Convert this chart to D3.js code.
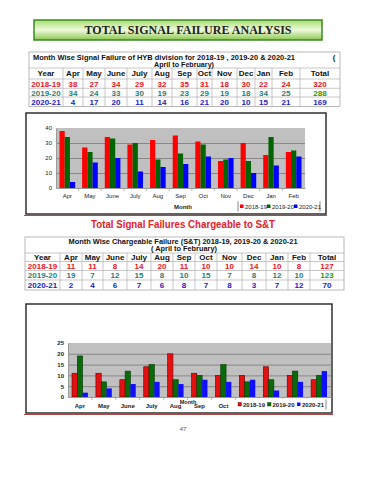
<!DOCTYPE html>
<html>
<head>
<meta charset="utf-8">
<script src="https://cdn.jsdelivr.net/npm/d3@7/dist/d3.min.js"></script>
<style>
  body { margin: 0; background: #fff; }
  svg { display: block; }
</style>
</head>
<body>
<div id="page"></div>
<script>
// data
var months = ["Apr", "May", "June", "July", "Aug", "Sep", "Oct", "Nov", "Dec", "Jan", "Feb"]
var years = ["2018-19", "2019-20", "2020-21"]

// total signal failures
var total1819 = [38, 27, 34, 29, 32, 35, 31, 18, 30, 22, 24]
var total1920 = [34, 24, 33, 30, 19, 23, 29, 19, 18, 34, 25]
var total2021 = [4, 17, 20, 11, 14, 16, 21, 20, 10, 15, 21]

// failures chargeable to S&T
var st1819 = [11, 11, 8, 14, 20, 11, 10, 10, 14, 10, 8]
var st1920 = [19, 7, 12, 15, 8, 10, 15, 7, 8, 12, 10]
var st2021 = [2, 4, 6, 7, 6, 8, 7, 8, 3, 7, 12]

var ticks1 = [0, 10, 20, 30, 40]
var ticks2 = [0, 5, 10, 15, 20, 25]

var W = 370, H = 480
var sans = "'Liberation Sans', Arial, sans-serif"
var rowColors = ["#e8141c", "#1f7f78", "#2222c8"]
var totalColors = ["#e8141c", "#15a015", "#2222c8"]

var svg = d3.select("#page")
  .append("svg")
  .attr("width", W)
  .attr("height", H)

// ---------- title box ----------
var defs = svg.append("defs")
var grad = defs.append("linearGradient")
  .attr("id", "titleGrad")
  .attr("x1", 0).attr("y1", 0).attr("x2", 0).attr("y2", 1)
grad.append("stop").attr("offset", "0%").attr("stop-color", "#a8dc70")
grad.append("stop").attr("offset", "50%").attr("stop-color", "#eefadc")
grad.append("stop").attr("offset", "100%").attr("stop-color", "#8cc850")

svg.append("rect")
  .attr("x", 34).attr("y", 20)
  .attr("width", 288).attr("height", 20)
  .style("fill", "url(#titleGrad)")
  .style("stroke", "#3a8a20")
  .style("stroke-width", 1.5)

svg.append("text")
  .attr("x", 188).attr("y", 34)
  .attr("text-anchor", "middle")
  .attr("textLength", 207)
  .attr("lengthAdjust", "spacingAndGlyphs")
  .style("font-family", "'Liberation Serif', 'Times New Roman', serif")
  .style("font-weight", "bold")
  .style("font-size", "11.5px")
  .style("fill", "#222")
  .text("TOTAL SIGNAL FAILURE ANALYSIS")

// ---------- tables ----------
function drawTable(cfg, rows) {
  var g = svg.append("g")
  var cols = cfg.cols
  var left = cols[0], right = cols[cols.length - 1]
  var rb = cfg.rowBounds

  // outer frame
  g.append("rect")
    .attr("x", left).attr("y", cfg.top)
    .attr("width", right - left).attr("height", rb[rb.length - 1] - cfg.top)
    .style("fill", "none")
    .style("stroke", "#a8a8a8")
    .style("stroke-width", 0.8)

  // horizontal lines
  g.selectAll("hline")
    .data(rb.slice(0, -1))
    .enter()
    .append("line")
    .attr("x1", left).attr("x2", right)
    .attr("y1", d => d).attr("y2", d => d)
    .style("stroke", "#b0b0b0")
    .style("stroke-width", 0.7)

  // vertical lines
  g.selectAll("vline")
    .data(cols.slice(1, -1))
    .enter()
    .append("line")
    .attr("x1", d => d).attr("x2", d => d)
    .attr("y1", rb[0]).attr("y2", rb[rb.length - 1])
    .style("stroke", "#b0b0b0")
    .style("stroke-width", 0.7)

  // header text
  cfg.header.forEach(function(h) {
    var t = g.append("text")
      .attr("x", h.x).attr("y", h.y)
      .attr("text-anchor", h.anchor || "middle")
      .style("font-family", sans)
      .style("font-weight", "bold")
      .style("font-size", "7.6px")
      .style("fill", "#111")
      .text(h.text)
    if (h.len) t.attr("textLength", h.len).attr("lengthAdjust", "spacingAndGlyphs")
  })

  // column title row
  var heads = ["Year"].concat(months).concat(["Total"])
  var fs = 8
  g.selectAll("colhead")
    .data(heads)
    .enter()
    .append("text")
    .attr("x", (d, i) => (cols[i] + cols[i + 1]) / 2)
    .attr("y", (rb[0] + rb[1]) / 2 + fs * 0.36)
    .attr("text-anchor", "middle")
    .style("font-family", sans)
    .style("font-weight", "bold")
    .style("font-size", fs + "px")
    .style("fill", "#111")
    .text(d => d)

  rows.forEach(function(vals, r) {
    var cells = [years[r]].concat(vals).concat([d3.sum(vals)])
    g.selectAll("cell" + r)
      .data(cells)
      .enter()
      .append("text")
      .attr("x", (d, i) => (cols[i] + cols[i + 1]) / 2)
      .attr("y", (rb[r + 1] + rb[r + 2]) / 2 + fs * 0.36)
      .attr("text-anchor", "middle")
      .style("font-family", sans)
      .style("font-weight", "bold")
      .style("font-size", fs + "px")
      .style("fill", (d, i) => i === cells.length - 1 ? totalColors[r] : rowColors[r])
      .text(d => d)
  })
}

drawTable({
  cols: [29, 63, 83, 105, 127, 152, 172, 197, 212, 237, 255, 272, 300, 340],
  top: 52,
  rowBounds: [68, 79, 88.3, 97, 106.5],
  header: [
    { x: 33, y: 59.5, anchor: "start", len: 262,
      text: "Month Wise Signal  Failure  of HYB division for  2018-19 , 2019-20  & 2020-21" },
    { x: 334, y: 59.5, text: "(" },
    { x: 184, y: 67, len: 60, text: "April to February)" }
  ]
}, [total1819, total1920, total2021])

svg.append("text")
  .attr("x", 183).attr("y", 228)
  .attr("text-anchor", "middle")
  .attr("textLength", 184)
  .attr("lengthAdjust", "spacingAndGlyphs")
  .style("font-family", sans)
  .style("font-weight", "bold")
  .style("font-size", "11px")
  .style("fill", "#e8202a")
  .text("Total Signal Failures Chargeable to S&T")

drawTable({
  cols: [25, 60, 82, 103, 127, 151, 173, 195, 217, 242, 266, 288, 310, 344],
  top: 237,
  rowBounds: [253, 261.5, 270.5, 280, 290],
  header: [
    { x: 183, y: 243.5, len: 229,
      text: "Month Wise Chargeable Failure  (S&T)  2018-19, 2019-20 & 2020-21" },
    { x: 184, y: 251, len: 66, text: "( April to February)" }
  ]
}, [st1819, st1920, st2021])

// ---------- bar charts ----------
function drawChart(cfg) {
  var g = svg.append("g")

  // frame
  g.append("rect")
    .attr("x", cfg.frame[0]).attr("y", cfg.frame[1])
    .attr("width", cfg.frame[2]).attr("height", cfg.frame[3])
    .style("fill", "#fff")
    .style("stroke", "#222")
    .style("stroke-width", 1.4)
  g.append("line")
    .attr("x1", cfg.frame[0] - 2).attr("x2", cfg.frame[0] + cfg.frame[2] + 1)
    .attr("y1", cfg.frame[1] + cfg.frame[3] + 1.4)
    .attr("y2", cfg.frame[1] + cfg.frame[3] + 1.4)
    .style("stroke", "#a03535")
    .style("stroke-width", 1)

  var x0 = d3.scaleBand()
    .domain(months)
    .range([cfg.plot.left, cfg.plot.right])

  var x1 = d3.scaleBand()
    .domain(years)
    .range([cfg.inset, x0.bandwidth() - cfg.inset])

  var y = d3.scaleLinear()
    .domain([0, cfg.ticks[cfg.ticks.length - 1]])
    .range([cfg.plot.bottom, cfg.plot.top])

  // plot background
  g.append("rect")
    .attr("x", cfg.plot.left).attr("y", cfg.plot.top)
    .attr("width", cfg.plot.right - cfg.plot.left)
    .attr("height", cfg.plot.bottom - cfg.plot.top)
    .style("fill", "#c0c0c0")

  // grid
  var yGrid = d3.axisLeft(y)
    .tickValues(cfg.gridTicks)
    .tickSize(-(cfg.plot.right - cfg.plot.left))
    .tickFormat("")
  g.append("g")
    .attr("transform", `translate(${cfg.plot.left},0)`)
    .call(yGrid)
    .call(a => a.select(".domain").remove())
    .selectAll("line")
    .style("stroke", "#7a7a7a")
    .style("stroke-width", 0.8)

  var series = [
    { year: years[0], values: cfg.data[0] },
    { year: years[1], values: cfg.data[1] },
    { year: years[2], values: cfg.data[2] }
  ]

  series.forEach(function(s, si) {
    g.selectAll("bars" + si)
      .data(s.values)
      .enter()
      .append("rect")
      .attr("x", (d, i) => x0(months[i]) + x1(s.year))
      .attr("y", d => y(d))
      .attr("width", x1.bandwidth())
      .attr("height", d => y(0) - y(d))
      .style("fill", cfg.colors[si])
      .style("stroke", cfg.strokes[si])
      .style("stroke-width", cfg.strokes[si] === "none" ? 0 : 0.6)
  })

  // y axis
  var yAxis = d3.axisLeft(y)
    .tickValues(cfg.ticks)
    .tickSize(0)
    .tickPadding(4)
  g.append("g")
    .attr("transform", `translate(${cfg.plot.left},0)`)
    .call(yAxis)
    .call(a => a.select(".domain").style("stroke", "#9a9a9a"))
    .selectAll("text")
    .style("font-family", sans)
    .style("font-size", "6px")
    .style("font-weight", cfg.bold ? "bold" : "normal")
    .style("fill", "#222")

  // x axis
  var xAxis = d3.axisBottom(x0)
    .tickSize(0)
    .tickPadding(cfg.xPad)
  var xa = g.append("g")
    .attr("transform", `translate(0,${cfg.plot.bottom})`)
    .call(xAxis)
  xa.select(".domain").style("stroke", "#9a9a9a")
  xa.selectAll("text")
    .style("font-family", sans)
    .style("font-size", "6px")
    .style("font-weight", cfg.bold ? "bold" : "normal")
    .style("fill", "#222")
  // labels that sit under the legend box are not visible in the original
  xa.selectAll(".tick")
    .filter(d => cfg.hidden.indexOf(d) >= 0)
    .select("text")
    .remove()
  // tick marks between groups
  xa.selectAll("sep")
    .data(months.slice(1))
    .enter()
    .append("line")
    .attr("x1", d => x0(d)).attr("x2", d => x0(d))
    .attr("y1", 0).attr("y2", 3)
    .style("stroke", "#9a9a9a")
    .style("stroke-width", 0.7)

  // legend
  var lg = g.append("g")
  if (cfg.legend.box) {
    lg.append("rect")
      .attr("x", cfg.legend.x - 2).attr("y", cfg.legend.y - 6)
      .attr("width", cfg.legend.right - cfg.legend.x + 2).attr("height", 12)
      .style("fill", "#fff")
  }
  lg.append("line")
    .attr("x1", cfg.legend.right).attr("x2", cfg.legend.right)
    .attr("y1", cfg.legend.y - 5).attr("y2", cfg.legend.y + 5)
    .style("stroke", "#555")
    .style("stroke-width", 0.7)
  if (cfg.legend.leftLine) {
    lg.append("line")
      .attr("x1", cfg.legend.x - 2).attr("x2", cfg.legend.x - 2)
      .attr("y1", cfg.legend.y - 5).attr("y2", cfg.legend.y + 5)
      .style("stroke", "#555")
      .style("stroke-width", 0.7)
  }
  years.forEach(function(yr, i) {
    var lx = cfg.legend.x + i * cfg.legend.step
    lg.append("rect")
      .attr("x", lx).attr("y", cfg.legend.y - 2)
      .attr("width", 3.5).attr("height", 3.5)
      .style("fill", cfg.colors[i])
      .style("stroke", cfg.strokes[i])
      .style("stroke-width", cfg.strokes[i] === "none" ? 0 : 0.4)
    lg.append("text")
      .attr("x", lx + 5).attr("y", cfg.legend.y + 2)
      .style("font-family", sans)
      .style("font-size", "6px")
      .style("font-weight", cfg.bold ? "bold" : "normal")
      .style("fill", "#222")
      .text(yr)
  })

  g.append("text")
    .attr("x", cfg.monthLabel[0]).attr("y", cfg.monthLabel[1])
    .attr("text-anchor", "middle")
    .style("font-family", sans)
    .style("font-size", cfg.monthSize + "px")
    .style("font-weight", "bold")
    .style("fill", "#222")
    .text("Month")
}

drawChart({
  frame: [26, 113, 300, 101],
  plot: { left: 56, right: 305, top: 128, bottom: 188 },
  inset: 3.5,
  ticks: ticks1,
  gridTicks: [10, 20, 30],
  data: [total1819, total1920, total2021],
  colors: ["#ff0000", "#006400", "#0000ff"],
  strokes: ["none", "none", "none"],
  bold: false,
  xPad: 6,
  hidden: [],
  legend: { x: 240, y: 206.5, step: 27, right: 320, leftLine: true, box: false },
  monthLabel: [183, 209],
  monthSize: 6
})

drawChart({
  frame: [26, 304, 306, 109],
  plot: { left: 68, right: 331, top: 343, bottom: 397 },
  inset: 4,
  ticks: ticks2,
  gridTicks: [5, 10, 15, 20],
  data: [st1819, st1920, st2021],
  colors: ["#e51010", "#0a6a0a", "#1010ff"],
  strokes: ["#6a0000", "#023a02", "none"],
  bold: true,
  xPad: 7,
  hidden: ["Nov", "Dec", "Jan", "Feb"],
  legend: { x: 238, y: 404.5, step: 29.5, right: 326, leftLine: false, box: true },
  monthLabel: [188, 404],
  monthSize: 5.5
})

// page number
svg.append("text")
  .attr("x", 183).attr("y", 431)
  .attr("text-anchor", "middle")
  .style("font-family", sans)
  .style("font-size", "6px")
  .style("fill", "#555")
  .text("47")
</script>
</body>
</html>
